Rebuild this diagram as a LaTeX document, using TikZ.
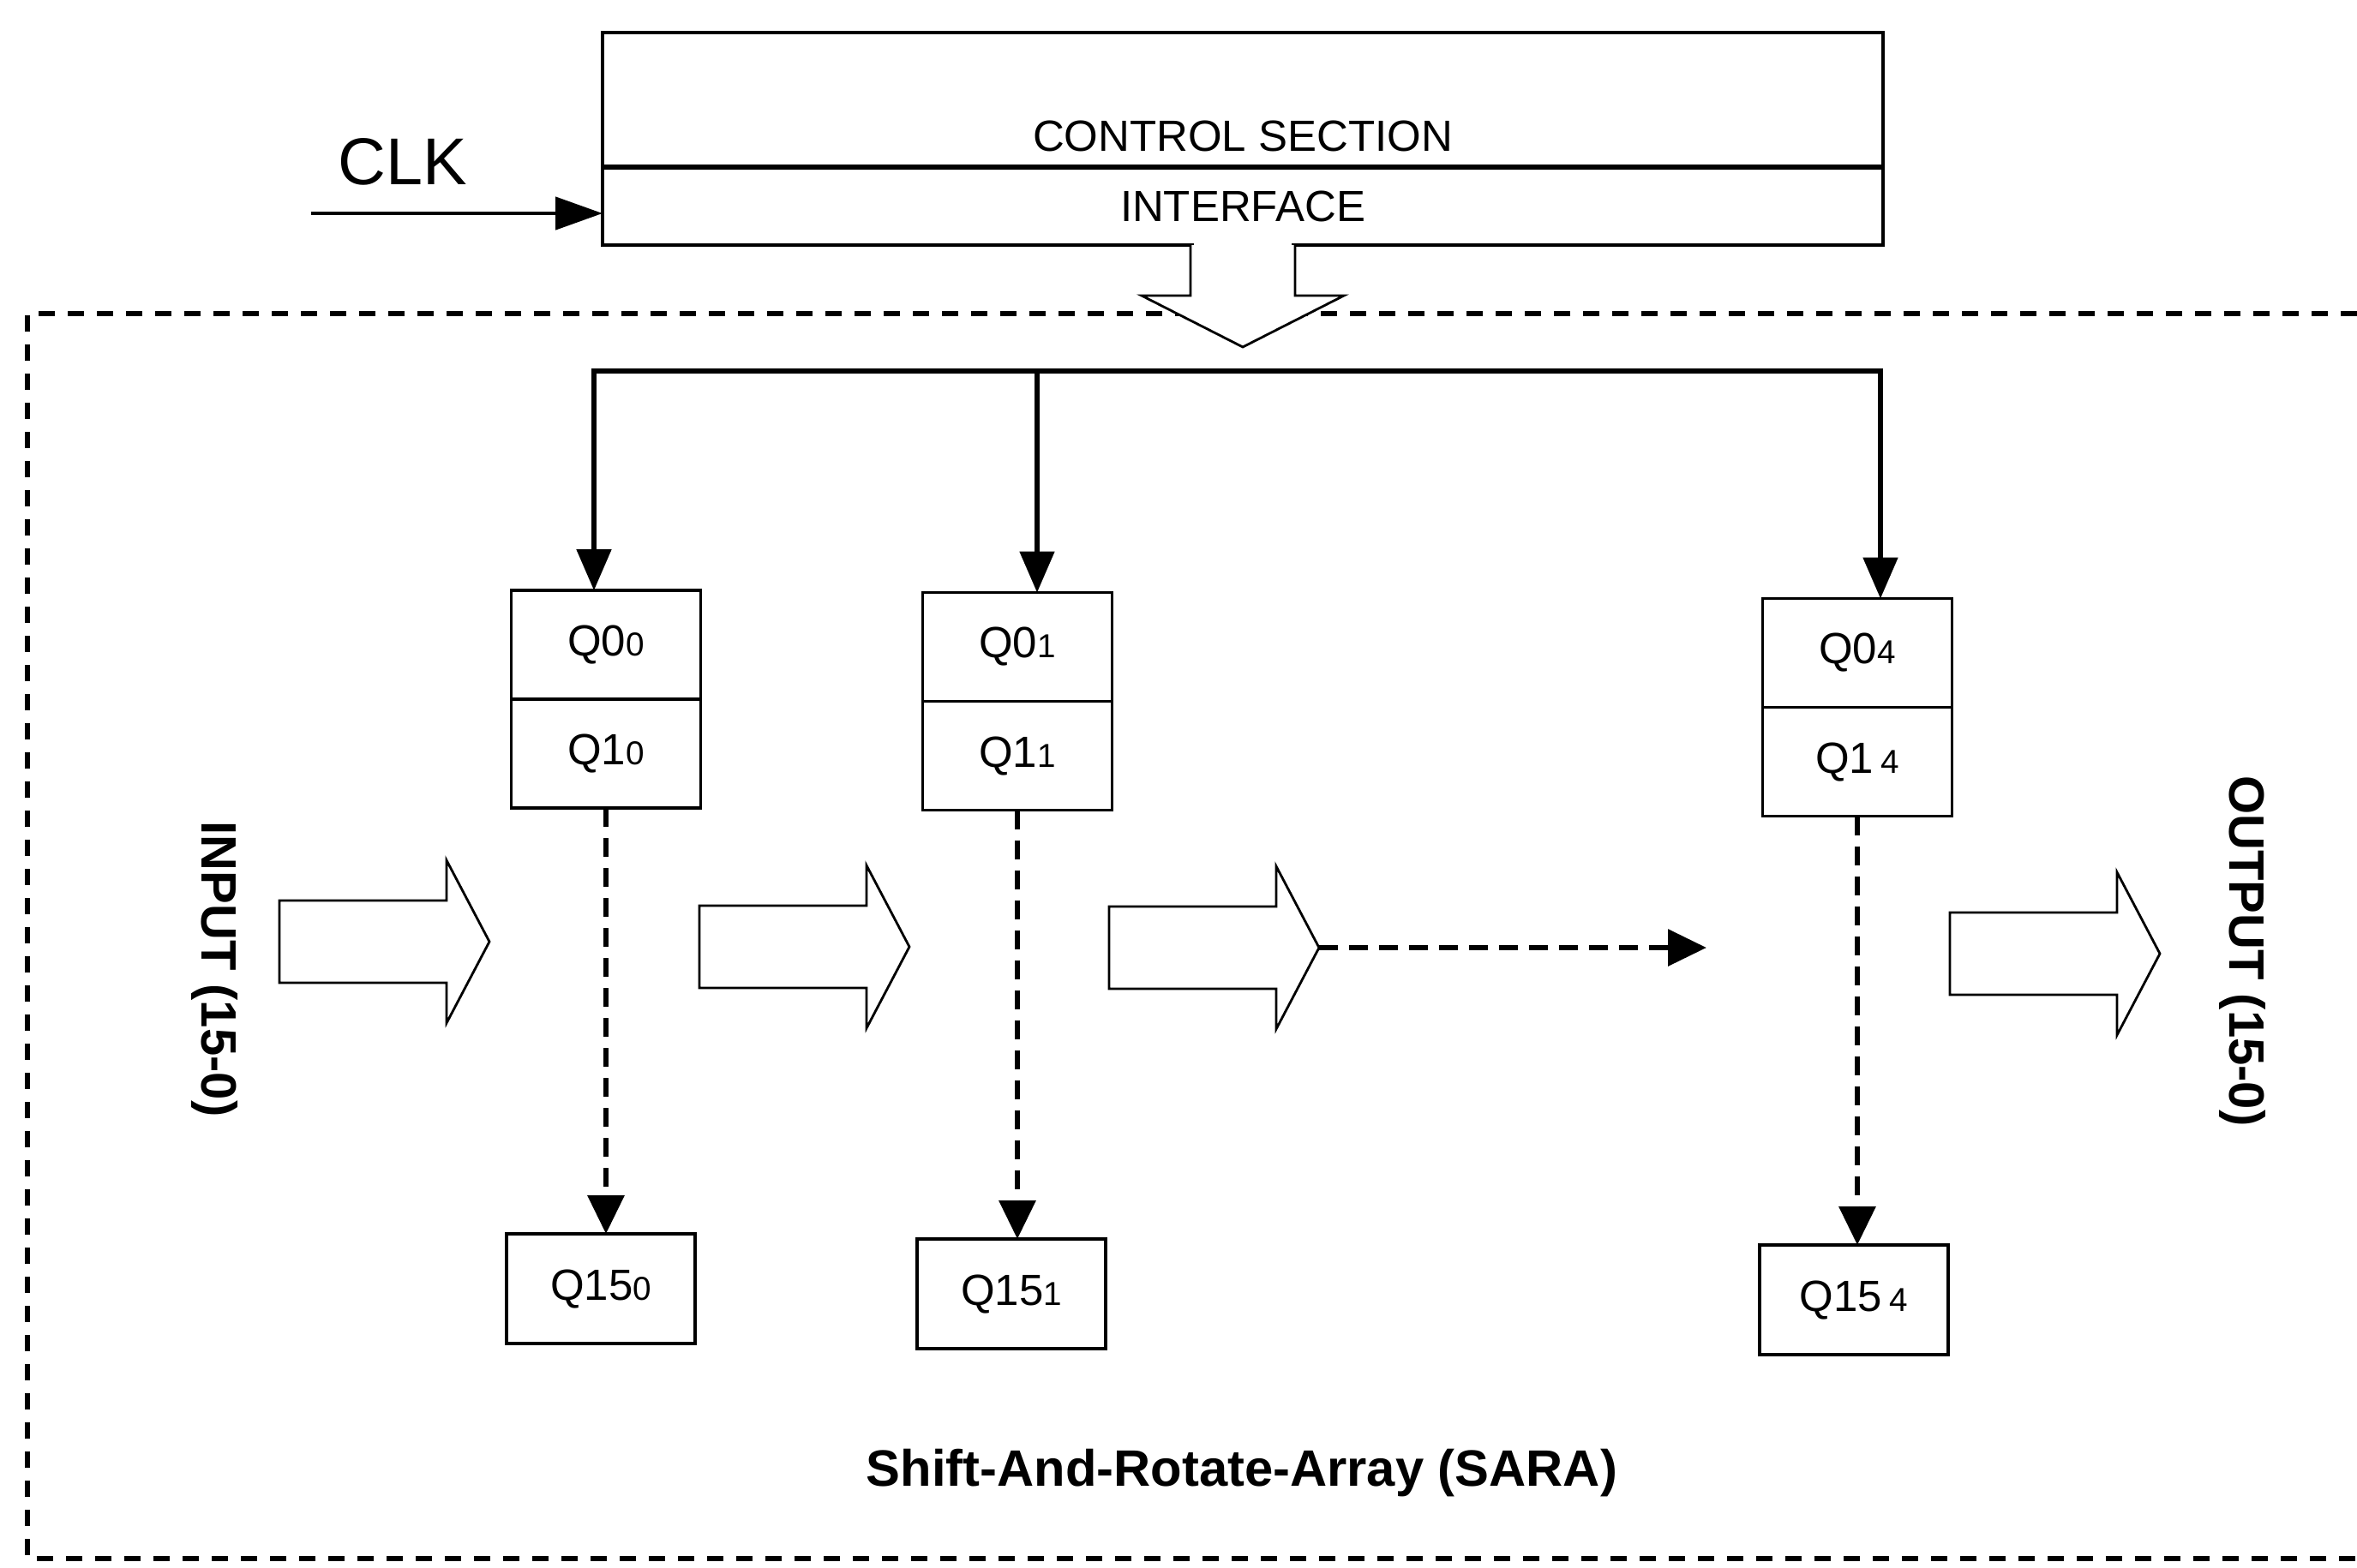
\documentclass[tikz,border=0pt]{standalone}
\usepackage{fontspec}
\setmainfont{Liberation Sans}
\usetikzlibrary{arrows.meta, positioning, calc}

\newcommand{\qsub}[1]{{\fontsize{11}{11}\selectfont #1}}
% fat hollow arrow: name of tip, left x, middle y
\newcommand{\fatarrow}[3]{%
  \begin{scope}[shift={(#2,#3)}]
    \draw[hollow] (0,0.48) -- (1.95,0.48) -- (1.95,0.95) -- (2.45,0) -- (1.95,-0.95) -- (1.95,-0.48) -- (0,-0.48) -- cycle;
    \coordinate (#1) at (2.45,0);
  \end{scope}}

\begin{document}
\begin{tikzpicture}[
  every node/.style={font=\fontsize{14.5}{16}\selectfont, inner sep=0pt, outer sep=0pt},
  cell/.style={draw, line width=0.9pt, minimum width=2.21cm, minimum height=1.27cm},
  lowcell/.style={draw, line width=0.9pt, minimum width=2.2cm, minimum height=1.28cm},
  topbox/.style={draw, line width=0.9pt, minimum width=14.94cm},
  sarrow/.style={-{Triangle[length=4.8mm, width=4mm]}, line width=1.5pt},
  bus/.style={{Triangle[length=4.8mm, width=4mm]}-{Triangle[length=4.8mm, width=4mm]}, line width=1.5pt, line join=miter},
  dasharr/.style={-{Triangle[length=4.5mm, width=4.2mm]}, line width=1.8pt, dash pattern=on 2.2mm off 1.3mm},
  frame/.style={line width=1.5pt, dash pattern=on 1.9mm off 1.5mm},
  hollow/.style={draw, line width=0.8pt, fill=white, line join=miter},
  side/.style={font=\fontsize{16.5}{18}\selectfont\bfseries, rotate=-90}
]
\useasboundingbox (0,0) rectangle (27.5,-18.29);

% SARA frame, open to the right
\draw[frame] (27.5,-3.66) -- (0.32,-3.66) -- (0.32,-18.19) -- (27.5,-18.19);

% control section / interface
\node[topbox, minimum height=1.57cm] (ctrl) at (14.5,-1.165) {};
\node[above=1.85mm of ctrl.south] (ctrltxt) {CONTROL SECTION};
\node[topbox, minimum height=0.91cm, below=0cm of ctrl] (intf) {INTERFACE};
\draw[line width=1.6pt] (ctrl.south west) -- (ctrl.south east);

\node[font=\fontsize{22}{24}\selectfont] (clk) at (4.70,-1.89) {CLK};
\coordinate (clkin) at (3.63,-2.49);
\draw[-{Triangle[length=5.5mm, width=3.8mm]}, line width=1.3pt] (clkin) -- (clkin -| intf.west);

% wide arrow down into the array
\coordinate (dn) at (intf.south);
\fill[white] ([xshift=-5.7mm, yshift=0.6mm]dn) rectangle ([xshift=5.7mm, yshift=-0.6mm]dn);
\draw[hollow] ([xshift=-6.1mm]dn) -- ++(0,-0.59) -- ++(-0.57,0) -- ([yshift=-11.9mm]dn) -- ++(1.18,0.6) -- ++(-0.57,0) -- ++(0,0.59);

% cells
\node[cell] (q00) at (7.07,-7.525) {Q0\qsub{0}};
\node[cell, below=0cm of q00] (q10) {Q1\qsub{0}};
\node[cell] (q01) at (11.87,-7.55) {Q0\qsub{1}};
\node[cell, below=0cm of q01] (q11) {Q1\qsub{1}};
\node[cell] (q04) at (21.67,-7.62) {Q0\qsub{4}};
\node[cell, below=0cm of q04] (q14) {Q1\,\qsub{4}};

\node[lowcell] (q150) at (7.01,-15.04) {Q15\qsub{0}};
\node[lowcell] (q151) at (11.80,-15.10) {Q15\qsub{1}};
\node[lowcell] (q154) at (21.63,-15.17) {Q15\,\qsub{4}};

% bus
\coordinate (bus0) at (6.93,-4.33);
\coordinate (bus1) at (12.10,-4.33);
\coordinate (bus4) at (21.94,-4.33);
\draw[bus] (bus0 |- q00.north) -- (bus0) -- (bus4) -- (bus4 |- q04.north);
\draw[sarrow] (bus1) -- (bus1 |- q01.north);

\draw[dasharr] (q10.south) -- (q10.south |- q150.north);
\draw[dasharr] (q11.south) -- (q11.south |- q151.north);
\draw[dasharr] (q14.south) -- (q14.south |- q154.north);

% data flow
\fatarrow{a1}{3.26}{-10.99}
\fatarrow{a2}{8.16}{-11.05}
\fatarrow{a3}{12.94}{-11.06}
\fatarrow{a4}{22.75}{-11.13}
\coordinate (dend) at (19.91,-11.06);
\draw[dasharr] (a3) -- (dend);

\node[side] (inlbl) at (2.50,-11.31) {INPUT (15-0)};
\node[side] (outlbl) at (26.16,-11.10) {OUTPUT (15-0)};
\node[font=\fontsize{17}{20}\selectfont\bfseries] (sara) at (14.49,-17.19) {Shift-And-Rotate-Array (SARA)};

\end{tikzpicture}
\end{document}
